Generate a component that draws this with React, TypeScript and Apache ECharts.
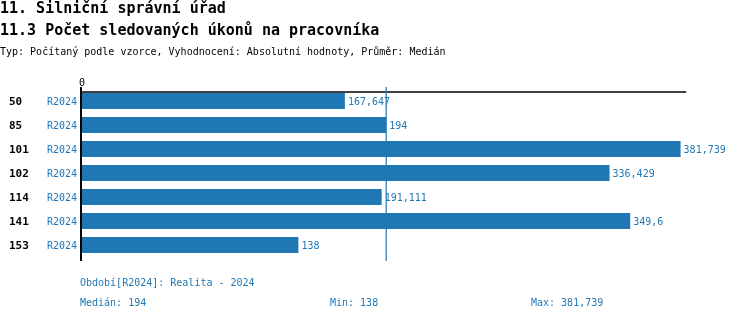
import React, { useEffect, useRef } from "react";
import * as echarts from "echarts";

const categories = ["50", "85", "101", "102", "114", "141", "153"];
const periods = ["R2024", "R2024", "R2024", "R2024", "R2024", "R2024", "R2024"];
const values = [167.647, 194, 381.739, 336.429, 191.111, 349.6, 138];
const xMax = 385;

const title1 = "11. Silniční správní úřad";
const title2 = "11.3 Počet sledovaných úkonů na pracovníka";
const subtitle = "Typ: Počítaný podle vzorce, Vyhodnocení: Absolutní hodnoty, Průměr: Medián";
const periodNote = "Období[R2024]: Realita - 2024";

const BLUE = "#1f77b4";
const FONT = "DejaVu Sans Mono";

const fmt = (v: number) => String(v).replace(".", ",");

function median(arr: number[]) {
  const s = [...arr].sort((a, b) => a - b);
  const m = Math.floor(s.length / 2);
  return s.length % 2 ? s[m] : (s[m - 1] + s[m]) / 2;
}

export default function App() {
  const ref = useRef<HTMLDivElement>(null);
  useEffect(() => {
    if (!ref.current) return;
    const chart = echarts.init(ref.current, undefined, { renderer: "svg" });
    const med = median(values);
    const mn = Math.min(...values);
    const mx = Math.max(...values);
    const txt = (text: string, x: number, y: number, size: number, color: string, bold = false) => ({
      type: "text",
      x,
      y,
      z: 100,
      style: {
        text,
        fill: color,
        font: `${bold ? "bold " : ""}${size}px "${FONT}"`,
        textVerticalAlign: "middle",
      },
    });
    chart.setOption({
      animation: false,
      grid: { left: 82, right: 64.3, top: 89, height: 168, containLabel: false },
      xAxis: {
        type: "value",
        position: "top",
        offset: -3,
        min: 0,
        max: xMax,
        interval: xMax,
        splitLine: { show: false },
        axisTick: { show: false },
        axisLine: { show: true, lineStyle: { color: "#000", width: 1.5 } },
        axisLabel: {
          margin: 5,
          color: "#000",
          fontFamily: FONT,
          fontSize: 10,
          formatter: (v: number) => (v === 0 ? "0" : ""),
        },
      },
      yAxis: [
        {
          type: "category",
          inverse: true,
          data: periods,
          axisLine: { show: false },
          axisTick: { show: false },
          axisLabel: { margin: 5, color: BLUE, fontFamily: FONT, fontSize: 10 },
        },
        {
          type: "category",
          inverse: true,
          position: "left",
          offset: 73,
          data: categories,
          axisLine: { show: false },
          axisTick: { show: false },
          axisLabel: {
            margin: 0,
            align: "left",
            color: "#000",
            fontFamily: FONT,
            fontSize: 11,
            fontWeight: "bold",
          },
        },
      ],
      series: [
        {
          type: "bar",
          yAxisIndex: 0,
          data: values,
          barWidth: 16,
          itemStyle: { color: BLUE },
          label: {
            show: true,
            position: "right",
            distance: 3,
            color: BLUE,
            fontFamily: FONT,
            fontSize: 10,
            formatter: (p: any) => fmt(p.value),
          },
        },
      ],
    });
    const [x0] = chart.convertToPixel({ gridIndex: 0 }, [0, 0]) as number[];
    const [xm] = chart.convertToPixel({ gridIndex: 0 }, [med, 0]) as number[];
    chart.setOption({
      graphic: [
        txt(title1, 0, 8, 15, "#000", true),
        txt(title2, 0, 30, 15, "#000", true),
        txt(subtitle, 0, 51, 10, "#000"),
        {
          type: "line",
          z: 100,
          shape: { x1: x0 - 1, y1: 87, x2: x0 - 1, y2: 261 },
          style: { stroke: "#000", lineWidth: 2 },
        },
        {
          type: "line",
          z: 100,
          shape: { x1: xm, y1: 87, x2: xm, y2: 261 },
          style: { stroke: BLUE, lineWidth: 1.2 },
        },
        txt(periodNote, 80, 282, 10, BLUE),
        txt(`Medián: ${fmt(med)}`, 80, 302, 10, BLUE),
        txt(`Min: ${fmt(mn)}`, 330, 302, 10, BLUE),
        txt(`Max: ${fmt(mx)}`, 531, 302, 10, BLUE),
      ],
    });
    return () => chart.dispose();
  }, []);
  return <div ref={ref} style={{ position: "fixed", left: 0, top: 0, width: 750, height: 320 }} />;
}
